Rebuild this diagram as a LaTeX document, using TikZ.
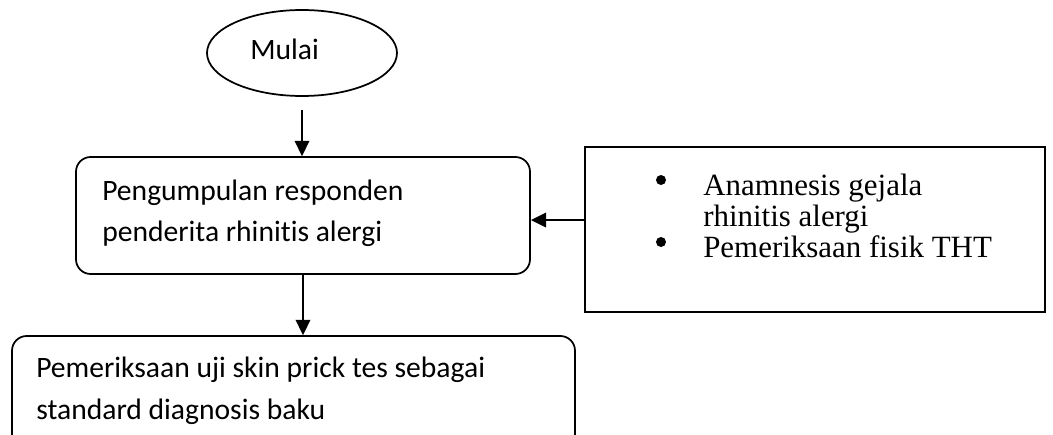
\documentclass[tikz,border=0pt]{standalone}
\usepackage{fontspec}
\setmainfont[Ligatures=NoCommon]{Carlito}
\newfontfamily\serifface[Ligatures=NoCommon]{Liberation Serif}
\usetikzlibrary{shapes.geometric,arrows.meta}

\tikzset{
  px/.style={x=0.75pt,y=-0.75pt},
  frame/.style={draw=black,line width=1.3pt,inner sep=0pt},
  roundbox/.style={frame,rectangle,rounded corners=11pt},
  plainbox/.style={frame,rectangle},
  startshape/.style={frame,ellipse},
  txt/.style={inner sep=0pt,anchor=base west,font=\fontsize{22.2}{26}\selectfont},
  sertxt/.style={inner sep=0pt,anchor=base west,font=\serifface\fontsize{23.2}{26}\selectfont},
  dot/.style={circle,fill=black,inner sep=0pt,minimum size=7.5pt},
  flow/.style={draw=black,line width=1.3pt,-{Triangle[length=11.5pt,width=11pt]}}
}

\begin{document}
\begin{tikzpicture}[px]
  \clip (0,0) rectangle (1053,435);
  \fill[white] (0,0) rectangle (1053,435);

  % start
  \node[startshape,minimum width=142.5pt,minimum height=64.5pt] (start) at (302,53) {};
  \node[txt] (startlbl) at (250,60) {Mulai};

  % collecting respondents
  \node[roundbox,minimum width=340.5pt,minimum height=87.75pt] (box1) at (303,215.5) {};
  \node[txt] (b1a) at (102,200) {Pengumpulan responden};
  \node[txt] (b1b) at (102,241) {penderita rhinitis alergi};

  % inclusion criteria
  \node[plainbox,minimum width=345pt,minimum height=123.75pt] (rbox) at (815,229.5) {};
  \node[dot] (bul1) at (661,180) {};
  \node[sertxt] (r1) at (703,195) {Anamnesis gejala};
  \node[sertxt] (r2) at (703,226) {rhinitis alergi};
  \node[dot] (bul2) at (661,242) {};
  \node[sertxt] (r3) at (703,257) {Pemeriksaan fisik THT};

  % skin prick test
  \node[roundbox,minimum width=422.25pt,minimum height=100.5pt] (box2) at (293.5,403) {};
  \node[txt] (b2a) at (36,377) {Pemeriksaan uji skin prick tes sebagai};
  \node[txt] (b2b) at (36,419) {standard diagnosis baku};

  % connectors
  \draw[flow,shorten <=9.75pt] (start.south) -- (start.south |- box1.north);
  \coordinate (in1) at ([yshift=-3.4pt]box1.east);
  \draw[flow] (rbox.west |- in1) -- (in1);
  \draw[flow] (box1.south) -- (box1.south |- box2.north);
\end{tikzpicture}
\end{document}
